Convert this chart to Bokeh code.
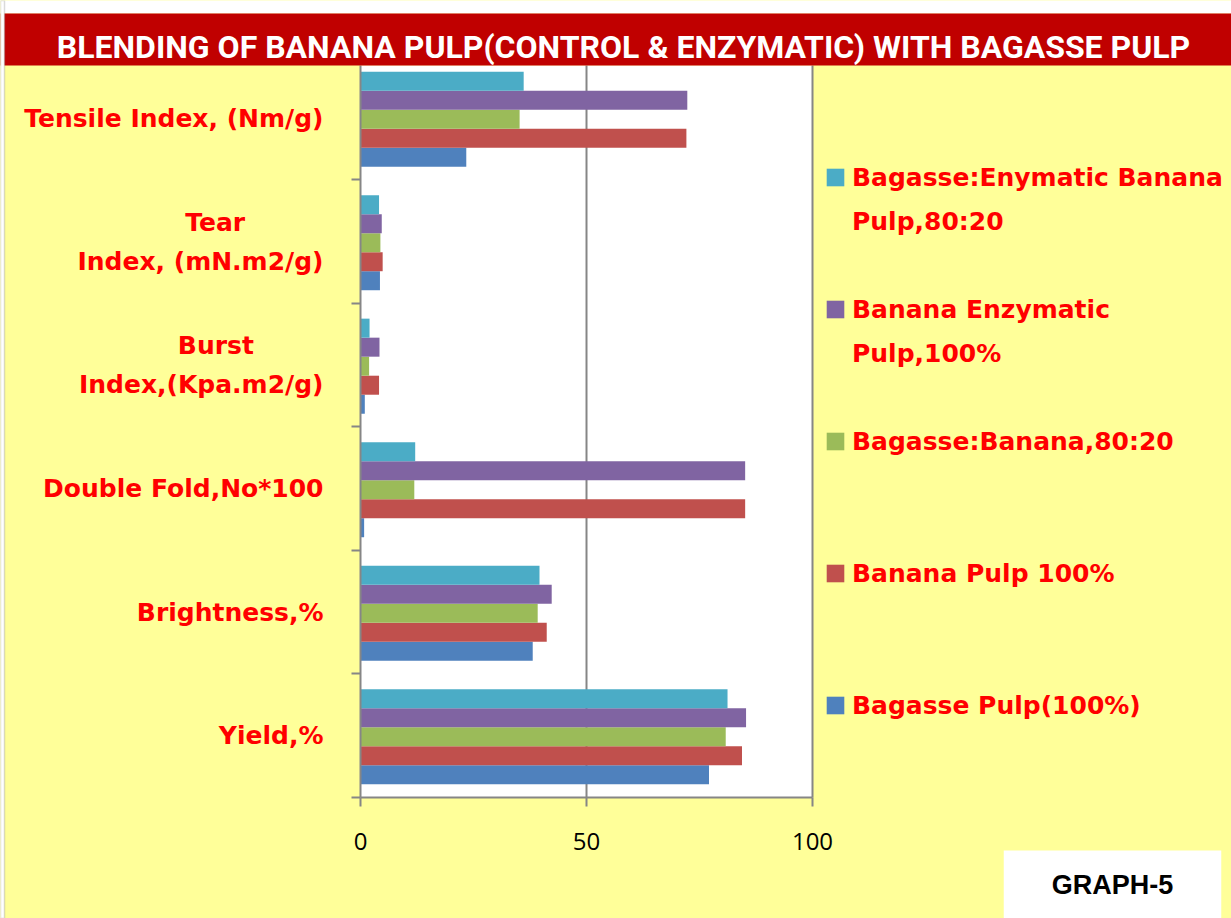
import numpy as np
from bokeh.plotting import figure
from bokeh.models import (Range1d, FixedTicker, Legend, LegendItem, Label, LinearAxis,
                          BoxAnnotation, ColumnDataSource)
from bokeh.transform import dodge
from bokeh.embed import file_html
from bokeh.resources import INLINE

# ---------------- data ----------------
title_text = "BLENDING OF BANANA PULP(CONTROL & ENZYMATIC) WITH BAGASSE PULP"
categories = ["Yield,%", "Brightness,%", "Double Fold,No*100",
              "Burst        \nIndex,(Kpa.m2/g)", "Tear         \nIndex, (mN.m2/g)",
              "Tensile Index, (Nm/g)"]
bagasse_pulp = [77.1, 38.1, 0.8, 0.95, 4.3, 23.4]
banana_pulp = [84.4, 41.2, 85.1, 4.1, 4.9, 72.1]
bagasse_banana = [80.8, 39.2, 11.9, 1.9, 4.4, 35.2]
banana_enzymatic = [85.3, 42.3, 85.1, 4.2, 4.7, 72.3]
bagasse_enz_banana = [81.2, 39.6, 12.1, 2.0, 4.1, 36.1]
series_values = [bagasse_pulp, banana_pulp, bagasse_banana, banana_enzymatic, bagasse_enz_banana]
series_colors = ["#4F81BD", "#C0504D", "#9BBB59", "#8064A2", "#4BACC6"]
# legend lines (top to bottom); None = continuation / blank line
legend_lines = [
    (4, "Bagasse:Enymatic Banana"), (None, "Pulp,80:20"), (None, " "),
    (3, "Banana Enzymatic"), (None, "Pulp,100%"), (None, " "),
    (2, "Bagasse:Banana,80:20"), (None, " "), (None, " "),
    (1, "Banana Pulp 100%"), (None, " "), (None, " "),
    (0, "Bagasse Pulp(100%)"),
]
x_ticks = [0, 50, 100]
footer_text = "GRAPH-5"

YELLOW = "#FFFF99"
GRAY = "#868686"
RED_TXT = "#FF0000"

W, H = 1231, 918
n = len(categories)
ycenter = np.arange(n) + 0.5
PLOT_TOP = 5.927          # top of the white plot area (in category units)
BAND_TOP = 6.348          # top of the red title band

src = ColumnDataSource(dict(y=ycenter, **{f"s{i}": v for i, v in enumerate(series_values)}))

p = figure(width=W, height=H, output_backend="svg", toolbar_location=None,
           x_range=Range1d(-79.65, 192.70), y_range=Range1d(-0.980, 6.453),
           x_axis_type=None, y_axis_type=None, min_border=0,
           background_fill_color=YELLOW, border_fill_color=YELLOW,
           outline_line_color=None, title=None)

# white plotting area
p.add_layout(BoxAnnotation(left=x_ticks[0], right=x_ticks[-1], bottom=0, top=PLOT_TOP,
                           fill_color="white", fill_alpha=1, line_color=None, level="underlay"))

# vertical grid lines
grid_x = x_ticks[1:]
p.segment(x0=grid_x, x1=grid_x, y0=[0] * len(grid_x), y1=[PLOT_TOP] * len(grid_x),
          line_color=GRAY, line_width=2)

# bars
bar_h = 0.154
renderers = []
for i, c in enumerate(series_colors):
    r = p.hbar(y=dodge("y", (i - 2) * bar_h - 0.008, range=p.y_range), right=f"s{i}",
               left=0, height=bar_h, source=src, fill_color=c, line_color=None)
    renderers.append(r)
dummy = p.hbar(y=[], right=[], height=bar_h, fill_alpha=0, line_alpha=0)

# x axis (fixed at y = 0)
xaxis = LinearAxis(fixed_location=0, ticker=FixedTicker(ticks=x_ticks),
                   bounds=(x_ticks[0], x_ticks[-1]))
xaxis.axis_line_color = GRAY
xaxis.axis_line_width = 2
xaxis.major_tick_line_color = GRAY
xaxis.major_tick_line_width = 2
xaxis.major_tick_out = 9
xaxis.major_tick_in = 0
xaxis.minor_tick_line_color = None
xaxis.major_label_text_font = "Open Sans"
xaxis.major_label_text_font_size = "24px"
xaxis.major_label_text_color = "black"
xaxis.major_label_standoff = 27
p.add_layout(xaxis, "below")

# y axis (fixed at x = 0)
yaxis = LinearAxis(fixed_location=0,
                   ticker=FixedTicker(ticks=list(ycenter), minor_ticks=list(range(n + 1))),
                   bounds=(0, PLOT_TOP))
yaxis.major_label_overrides = {float(y): lab for y, lab in zip(ycenter, categories)}
yaxis.axis_line_color = GRAY
yaxis.axis_line_width = 2
yaxis.major_tick_line_color = None
yaxis.major_tick_out = 0
yaxis.major_tick_in = 0
yaxis.minor_tick_line_color = GRAY
yaxis.minor_tick_line_width = 2
yaxis.minor_tick_out = 9
yaxis.minor_tick_in = 0
yaxis.major_label_text_font = "DejaVu Sans"
yaxis.major_label_text_font_style = "bold"
yaxis.major_label_text_font_size = "25px"
yaxis.major_label_text_color = RED_TXT
yaxis.major_label_text_line_height = 1.35
yaxis.major_label_standoff = 28
p.add_layout(yaxis, "left")

# title band
p.add_layout(BoxAnnotation(bottom=BAND_TOP, fill_color="white", fill_alpha=1, line_color=None))
p.add_layout(BoxAnnotation(bottom=PLOT_TOP, top=BAND_TOP, fill_color="#C00000",
                           fill_alpha=1, line_color=None))
p.add_layout(Label(x=623, y=H - 46, x_units="screen", y_units="screen", text=title_text,
                   text_align="center", text_baseline="alphabetic", text_color="white",
                   text_font="Roboto", text_font_style="bold", text_font_size="32px"))

# thin left border of the chart area
p.add_layout(BoxAnnotation(right=4, right_units="screen", fill_color="white", fill_alpha=1,
                           line_color=GRAY, line_width=1.5))

# legend
items = []
for idx, text in legend_lines:
    rend = renderers[idx] if idx is not None else dummy
    items.append(LegendItem(label=text, renderers=[rend]))
legend = Legend(items=items, location=(824, 191), margin=0, padding=0, spacing=0,
                label_height=44, glyph_height=22, glyph_width=22, label_standoff=6,
                background_fill_alpha=0, border_line_color=None,
                label_text_color=RED_TXT, label_text_font="DejaVu Sans",
                label_text_font_style="bold", label_text_font_size="25px",
                label_text_baseline="middle")
p.add_layout(legend)

# footer box
p.add_layout(Label(x=1112, y=H - 884, x_units="screen", y_units="screen", text=footer_text,
                   text_align="center", text_baseline="middle", text_color="black",
                   text_font="Liberation Sans", text_font_style="bold", text_font_size="27px",
                   background_fill_color="white",
                   padding=dict(left=48, right=48, top=19, bottom=19)))

open("out.html", "w").write(file_html(p, INLINE))
